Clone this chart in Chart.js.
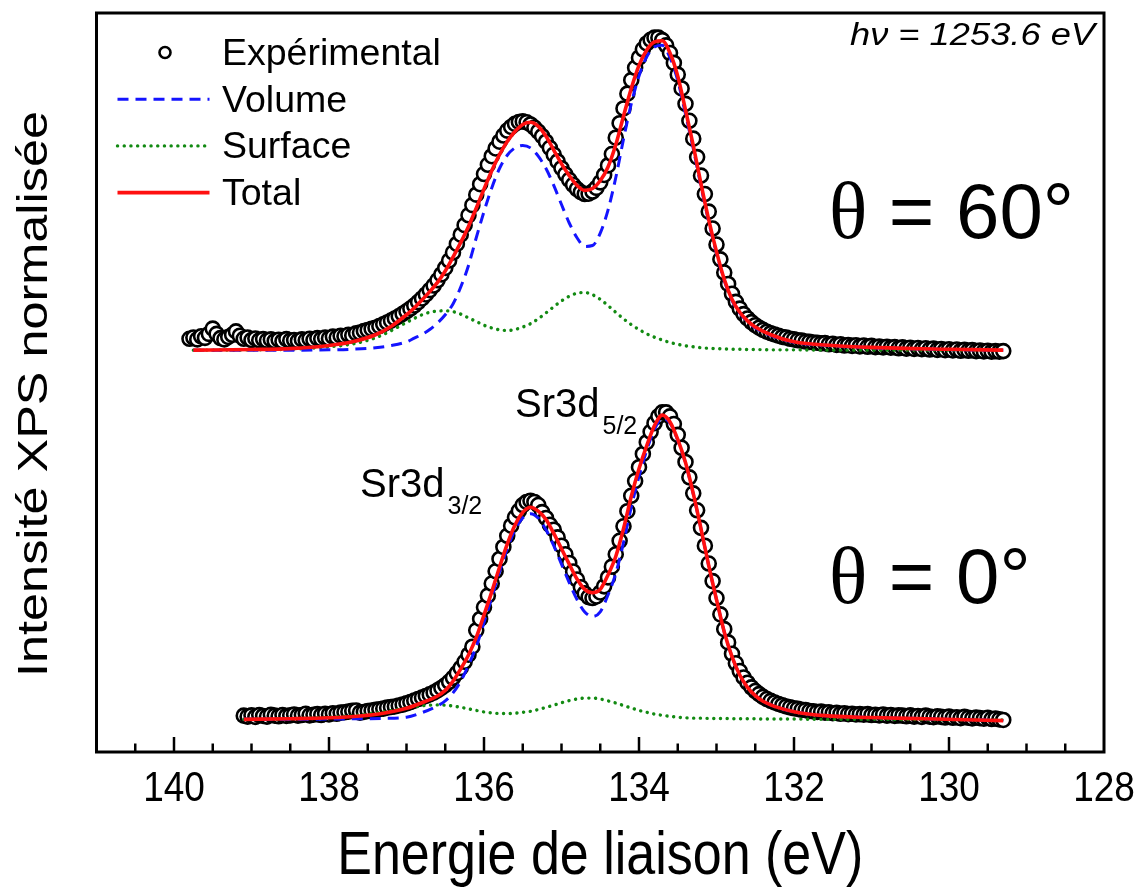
<!DOCTYPE html>
<html>
<head>
<meta charset="utf-8">
<script src="https://cdn.jsdelivr.net/npm/chart.js@4.4.1/dist/chart.umd.min.js"></script>
<style>
  html, body { margin: 0; padding: 0; background: #fff; }
  canvas { display: block; }
</style>
</head>
<body>
<canvas id="chart" width="1146" height="893"></canvas>
<script>
// --- axe des énergies ---
const majorTicks = [140, 138, 136, 134, 132, 130, 128];
const minorStep = 0.5;
const expStep = 0.05;

// --- points expérimentaux, theta = 0° (de 139.10 à 129.30 eV) ---
const lowerExpStart = 139.10;
const lowerExp = [
  0.008, 0.005, 0.009, 0.004, 0.010, 0.007, 0.005, 0.011, 0.008, 0.006,
  0.010, 0.007, 0.009, 0.012, 0.008, 0.010, 0.014, 0.009, 0.011, 0.013,
  0.010, 0.014, 0.012, 0.016, 0.014, 0.018, 0.019, 0.021, 0.024, 0.025,
  0.018, 0.020, 0.023, 0.025, 0.027, 0.029, 0.031, 0.034, 0.036, 0.038,
  0.041, 0.044, 0.048, 0.052, 0.057, 0.062, 0.067, 0.072, 0.077, 0.083,
  0.090, 0.098, 0.107, 0.118, 0.131, 0.146, 0.163, 0.183, 0.206, 0.232,
  0.285, 0.322, 0.360, 0.398, 0.437, 0.477, 0.517, 0.556, 0.592, 0.625,
  0.652, 0.673, 0.692, 0.702, 0.706, 0.702, 0.692, 0.669, 0.650, 0.628,
  0.612, 0.587, 0.560, 0.532, 0.504, 0.476, 0.450, 0.425, 0.405, 0.393,
  0.390, 0.395, 0.408, 0.428, 0.457, 0.492, 0.532, 0.576, 0.623, 0.672,
  0.722, 0.770, 0.815, 0.858, 0.896, 0.930, 0.958, 0.980, 0.993, 0.993,
  0.980, 0.955, 0.920, 0.878, 0.832, 0.782, 0.730, 0.675, 0.618, 0.560,
  0.502, 0.445, 0.390, 0.337, 0.289, 0.246, 0.209, 0.178, 0.153, 0.132,
  0.115, 0.100, 0.088, 0.078, 0.069, 0.062, 0.056, 0.051, 0.046, 0.042,
  0.038, 0.035, 0.032, 0.030, 0.027, 0.026, 0.023, 0.022, 0.020, 0.021,
  0.018, 0.019, 0.016, 0.017, 0.014, 0.016, 0.013, 0.014, 0.012, 0.013,
  0.011, 0.013, 0.010, 0.011, 0.009, 0.012, 0.008, 0.010, 0.007, 0.009,
  0.008, 0.006, 0.009, 0.005, 0.007, 0.004, 0.008, 0.005, 0.003, 0.006,
  0.004, 0.002, 0.005, 0.001, 0.003, 0.000, 0.004, 0.001, -0.001, 0.002,
  0.000, -0.002, 0.001, -0.003, -0.001, -0.004, -0.006
];

// --- points expérimentaux, theta = 60° (de 139.80 à 129.30 eV) ---
const upperExpStart = 139.80;
const upperExp = [
  1.232, 1.236, 1.230, 1.240, 1.235, 1.248, 1.265, 1.248, 1.234, 1.230,
  1.238, 1.245, 1.256, 1.242, 1.232, 1.236, 1.228, 1.233, 1.227, 1.231,
  1.226, 1.230, 1.225, 1.229, 1.224, 1.231, 1.226, 1.228, 1.225, 1.230,
  1.227, 1.232, 1.228, 1.234, 1.231, 1.236, 1.233, 1.239, 1.236, 1.242,
  1.240, 1.245, 1.243, 1.250, 1.252, 1.257, 1.260, 1.264, 1.268, 1.273,
  1.279, 1.285, 1.291, 1.298, 1.305, 1.313, 1.321, 1.330, 1.340, 1.351,
  1.363, 1.376, 1.390, 1.405, 1.422, 1.441, 1.462, 1.486, 1.512, 1.540,
  1.570, 1.601, 1.633, 1.666, 1.700, 1.734, 1.767, 1.797, 1.825, 1.850,
  1.872, 1.892, 1.908, 1.920, 1.930, 1.936, 1.938, 1.935, 1.928, 1.918,
  1.905, 1.890, 1.872, 1.852, 1.830, 1.808, 1.786, 1.766, 1.748, 1.732,
  1.718, 1.708, 1.702, 1.703, 1.710, 1.722, 1.740, 1.764, 1.795, 1.832,
  1.885, 1.932, 1.980, 2.028, 2.072, 2.112, 2.145, 2.172, 2.191, 2.203,
  2.210, 2.210, 2.202, 2.185, 2.160, 2.128, 2.090, 2.045, 1.995, 1.940,
  1.882, 1.822, 1.762, 1.702, 1.645, 1.590, 1.538, 1.490, 1.447, 1.410,
  1.378, 1.352, 1.330, 1.312, 1.298, 1.286, 1.276, 1.268, 1.261, 1.255,
  1.250, 1.246, 1.242, 1.238, 1.236, 1.232, 1.230, 1.227, 1.226, 1.223,
  1.222, 1.220, 1.219, 1.217, 1.218, 1.214, 1.216, 1.212, 1.214, 1.210,
  1.212, 1.209, 1.211, 1.207, 1.210, 1.206, 1.209, 1.205, 1.207, 1.204,
  1.206, 1.203, 1.205, 1.201, 1.204, 1.200, 1.203, 1.199, 1.202, 1.198,
  1.201, 1.197, 1.200, 1.196, 1.199, 1.195, 1.198, 1.194, 1.197, 1.193,
  1.196, 1.193, 1.195, 1.192, 1.194, 1.191, 1.193, 1.190, 1.192, 1.190,
  1.192
];

// --- ajustements, theta = 0° ---
const lowerFitE = [
  139.1, 138.5, 138.0, 137.6, 137.3, 137.0, 136.8, 136.6,
  136.5, 136.4, 136.3, 136.2, 136.1, 136.0, 135.9, 135.8, 135.7, 135.6,
  135.5, 135.4, 135.3, 135.2, 135.1, 135.0, 134.9, 134.8, 134.7, 134.6,
  134.5, 134.4, 134.3, 134.2, 134.1, 134.0, 133.9, 133.8, 133.7, 133.6,
  133.5, 133.4, 133.3, 133.2, 133.1, 133.0, 132.9, 132.8, 132.7, 132.6,
  132.5, 132.4, 132.2, 132.0, 131.6, 131.0, 130.3, 129.3
];
const lowerTotal = [
  -0.004, -0.002, 0.001, 0.007, 0.016, 0.032, 0.050, 0.072,
  0.090, 0.120, 0.160, 0.205, 0.262, 0.335, 0.410, 0.490, 0.565, 0.627,
  0.668, 0.685, 0.672, 0.645, 0.600, 0.550, 0.500, 0.452, 0.418, 0.407,
  0.418, 0.465, 0.525, 0.615, 0.720, 0.810, 0.885, 0.950, 0.984, 0.962,
  0.905, 0.830, 0.730, 0.615, 0.495, 0.385, 0.280, 0.200, 0.140, 0.100,
  0.073, 0.055, 0.034, 0.021, 0.008, 0.002, -0.002, -0.008
];
const lowerVolume = [
  -0.004, -0.004, -0.003, -0.002, -0.001, 0.003, 0.018, 0.040,
  0.056, 0.082, 0.120, 0.172, 0.232, 0.310, 0.392, 0.475, 0.550, 0.612,
  0.650, 0.664, 0.650, 0.612, 0.560, 0.500, 0.440, 0.385, 0.345, 0.330,
  0.345, 0.400, 0.470, 0.570, 0.685, 0.785, 0.870, 0.938, 0.975, 0.958,
  0.902, 0.828, 0.728, 0.614, 0.494, 0.385, 0.280, 0.200, 0.140, 0.100,
  0.073, 0.055, 0.034, 0.021, 0.008, 0.002, -0.002, -0.008
];
const lowerSurface = [
  -0.004, -0.002, 0.003, 0.010, 0.020, 0.033, 0.040, 0.043,
  0.042, 0.039, 0.035, 0.030, 0.025, 0.020, 0.017, 0.015, 0.015, 0.016,
  0.019, 0.022, 0.028, 0.035, 0.042, 0.050, 0.057, 0.062, 0.065, 0.065,
  0.062, 0.056, 0.049, 0.041, 0.033, 0.025, 0.019, 0.013, 0.009, 0.006,
  0.003, 0.001, 0.000, 0.000, -0.001, -0.001, -0.001, -0.002, -0.002, -0.002,
  -0.002, -0.003, -0.003, -0.003, -0.004, -0.004, -0.005, -0.006
];

// --- ajustements, theta = 60° ---
const upperFitE = [
  139.75, 139.0, 138.5, 138.0, 137.7, 137.4, 137.2, 137.0, 136.9,
  136.8, 136.7, 136.6, 136.5, 136.4, 136.3, 136.2, 136.1, 136.0, 135.9,
  135.8, 135.7, 135.6, 135.5, 135.4, 135.3, 135.2, 135.1, 135.0, 134.9,
  134.8, 134.7, 134.6, 134.5, 134.4, 134.3, 134.2, 134.1, 134.0, 133.9,
  133.8, 133.7, 133.6, 133.5, 133.4, 133.3, 133.2, 133.1, 133.0, 132.9,
  132.8, 132.7, 132.6, 132.5, 132.3, 132.0, 131.5, 131.0, 130.0, 129.3
];
const upperTotal = [
  1.195, 1.197, 1.200, 1.210, 1.222, 1.245, 1.272, 1.310, 1.332,
  1.358, 1.385, 1.415, 1.452, 1.497, 1.545, 1.597, 1.656, 1.718, 1.778,
  1.830, 1.873, 1.905, 1.928, 1.935, 1.922, 1.890, 1.845, 1.800, 1.762,
  1.730, 1.714, 1.720, 1.745, 1.790, 1.862, 1.955, 2.045, 2.120, 2.170,
  2.196, 2.200, 2.160, 2.085, 1.975, 1.860, 1.735, 1.618, 1.515, 1.425,
  1.360, 1.318, 1.290, 1.270, 1.245, 1.222, 1.210, 1.204, 1.198, 1.195
];
const upperVolume = [
  1.195, 1.195, 1.195, 1.196, 1.198, 1.203, 1.210, 1.222, 1.234,
  1.246, 1.262, 1.283, 1.310, 1.345, 1.400, 1.470, 1.560, 1.645, 1.722,
  1.785, 1.828, 1.852, 1.860, 1.852, 1.825, 1.785, 1.730, 1.668, 1.608,
  1.560, 1.532, 1.535, 1.575, 1.650, 1.755, 1.880, 1.995, 2.085, 2.148,
  2.180, 2.185, 2.145, 2.070, 1.962, 1.850, 1.727, 1.612, 1.510, 1.421,
  1.357, 1.315, 1.288, 1.268, 1.243, 1.221, 1.209, 1.203, 1.197, 1.195
];
const upperSurface = [
  1.195, 1.196, 1.198, 1.206, 1.215, 1.235, 1.258, 1.285, 1.298,
  1.310, 1.318, 1.322, 1.323, 1.320, 1.312, 1.300, 1.288, 1.276, 1.267,
  1.261, 1.259, 1.262, 1.270, 1.281, 1.297, 1.316, 1.336, 1.355, 1.370,
  1.380, 1.382, 1.375, 1.360, 1.340, 1.318, 1.297, 1.278, 1.262, 1.248,
  1.237, 1.228, 1.220, 1.214, 1.209, 1.206, 1.203, 1.201, 1.200, 1.199,
  1.198, 1.198, 1.197, 1.197, 1.196, 1.196, 1.195, 1.195, 1.195, 1.195
];

const SANS = '"Liberation Sans", Arial, sans-serif';
const SERIF = '"Liberation Serif", "Times New Roman", serif';

const expPoints = (start, vals) => vals.map((y, i) => ({ x: +(start - i * expStep).toFixed(2), y }));
const fitPoints = (es, vals) => es.map((x, i) => ({ x, y: vals[i] }));

const styleExp = {
  showLine: false, pointRadius: 7, pointBorderWidth: 2.6,
  pointBorderColor: '#000', pointBackgroundColor: '#fff', order: 10
};
const styleVolume = {
  showLine: true, pointRadius: 0, borderColor: '#1414ff', borderWidth: 3,
  borderDash: [11, 7], cubicInterpolationMode: 'monotone', order: 2
};
const styleSurface = {
  showLine: true, pointRadius: 0, borderColor: '#128a12', borderWidth: 3.4,
  borderDash: [0.1, 6.6], borderCapStyle: 'round', cubicInterpolationMode: 'monotone', order: 3
};
const styleTotal = {
  showLine: true, pointRadius: 0, borderColor: '#ff1010', borderWidth: 3.6,
  cubicInterpolationMode: 'monotone', order: 1
};

const datasets = [
  { label: 'Expérimental', data: expPoints(upperExpStart, upperExp), ...styleExp },
  { label: 'Expérimental', data: expPoints(lowerExpStart, lowerExp), ...styleExp },
  { label: 'Volume', data: fitPoints(upperFitE, upperVolume), ...styleVolume },
  { label: 'Volume', data: fitPoints(lowerFitE, lowerVolume), ...styleVolume },
  { label: 'Surface', data: fitPoints(upperFitE, upperSurface), ...styleSurface },
  { label: 'Surface', data: fitPoints(lowerFitE, lowerSurface), ...styleSurface },
  { label: 'Total', data: fitPoints(upperFitE, upperTotal), ...styleTotal },
  { label: 'Total', data: fitPoints(lowerFitE, lowerTotal), ...styleTotal }
];

// texte étiré (sx, sy) autour de son point d'ancrage
const drawStretched = (ctx, text, x, y, font, sx, sy, rot = 0) => {
  ctx.save();
  ctx.translate(x, y);
  ctx.rotate(rot);
  ctx.scale(sx, sy);
  ctx.font = font;
  ctx.fillText(text, 0, 0);
  ctx.restore();
};

// cadre, graduations vers l'intérieur, étiquettes et titres des axes
const cadre = {
  id: 'cadre',
  afterDatasetsDraw(chart) {
    const { ctx, chartArea: a, scales: { x } } = chart;
    ctx.save();
    ctx.strokeStyle = '#000';
    ctx.lineWidth = 2.5;
    for (let v = x.min + minorStep; v < x.max; v += minorStep) {
      const px = x.getPixelForValue(v);
      const len = majorTicks.includes(v) ? 15 : 8.5;
      ctx.beginPath();
      ctx.moveTo(px, a.bottom);
      ctx.lineTo(px, a.bottom - len);
      ctx.stroke();
    }
    ctx.lineWidth = 3;
    ctx.strokeRect(a.left, a.top, a.right - a.left, a.bottom - a.top);

    ctx.fillStyle = '#000';
    ctx.textAlign = 'center';
    ctx.textBaseline = 'alphabetic';
    majorTicks.forEach(v => {
      drawStretched(ctx, String(v), x.getPixelForValue(v), a.bottom + 49, '37px ' + SANS, 1, 1.15);
    });
    drawStretched(ctx, 'Energie de liaison (eV)', (a.left + a.right) / 2, a.bottom + 122, '52px ' + SANS, 1, 1.17);
    drawStretched(ctx, 'Intensité XPS normalisée', 47, 394, '42px ' + SANS, 1.2, 1, -Math.PI / 2);
    ctx.restore();
  }
};

// légende dessinée à la main (symboles tirés des datasets)
const legende = {
  id: 'legende',
  afterDraw(chart) {
    const { ctx, chartArea: a } = chart;
    const seen = [];
    chart.data.datasets.forEach(d => { if (!seen.find(s => s.label === d.label)) seen.push(d); });
    ctx.save();
    ctx.font = '37.5px ' + SANS;
    ctx.fillStyle = '#000';
    ctx.textBaseline = 'alphabetic';
    seen.forEach((d, i) => {
      const base = a.top + 52 + i * 46.7;
      const cy = base - 12.5;
      const x0 = a.left + 21, x1 = a.left + 113;
      if (d.showLine) {
        ctx.strokeStyle = d.borderColor;
        ctx.lineWidth = d.borderWidth;
        ctx.setLineDash(d.borderDash || []);
        ctx.lineCap = d.borderCapStyle || 'butt';
        ctx.beginPath();
        ctx.moveTo(x0, cy);
        ctx.lineTo(x1, cy);
        ctx.stroke();
        ctx.setLineDash([]);
        ctx.lineCap = 'butt';
      } else {
        ctx.beginPath();
        ctx.arc(a.left + 68.5, cy, 5.5, 0, Math.PI * 2);
        ctx.fillStyle = d.pointBackgroundColor;
        ctx.fill();
        ctx.lineWidth = d.pointBorderWidth;
        ctx.strokeStyle = d.pointBorderColor;
        ctx.stroke();
        ctx.fillStyle = '#000';
      }
      ctx.fillText(d.label, a.left + 125.5, base);
    });
    ctx.restore();
  }
};

// annotations (positions en unités des axes)
const textes = {
  id: 'textes',
  afterDraw(chart) {
    const { ctx, chartArea: a, scales: { x, y } } = chart;
    ctx.save();
    ctx.fillStyle = '#000';
    ctx.textBaseline = 'alphabetic';

    const sr = (e, v, sub) => {
      const px = x.getPixelForValue(e), py = y.getPixelForValue(v);
      ctx.font = '40px ' + SANS;
      ctx.fillText('Sr3d', px, py);
      const w = ctx.measureText('Sr3d').width;
      ctx.font = '25px ' + SANS;
      ctx.fillText(sub, px + w + 3, py + 17);
    };
    sr(137.6, 0.718, '3/2');
    sr(135.6, 0.977, '5/2');

    const theta = (e, v, rest) => {
      const px = x.getPixelForValue(e), py = y.getPixelForValue(v);
      ctx.font = '80px ' + SERIF;
      ctx.fillText('\u03b8', px, py);
      const w = ctx.measureText('\u03b8').width;
      ctx.font = '78px ' + SANS;
      ctx.fillText(rest, px + w, py);
    };
    theta(131.55, 1.56, ' = 60\u00b0');
    theta(131.55, 0.375, ' = 0\u00b0');

    // h nu, un peu élargi comme sur la figure
    ctx.textAlign = 'right';
    drawStretched(ctx, 'h\u03bd = 1253.6 eV', a.right - 9, a.top + 32, 'italic 31px ' + SANS, 1.17, 1);
    ctx.restore();
  }
};

new Chart(document.getElementById('chart'), {
  type: 'scatter',
  data: { datasets },
  options: {
    responsive: false,
    animation: false,
    devicePixelRatio: 1,
    layout: { padding: { top: 13, right: 42, bottom: 0, left: 0 } },
    plugins: { legend: { display: false }, tooltip: { enabled: false } },
    scales: {
      x: {
        type: 'linear', min: 128, max: 141, reverse: true,
        grid: { display: false, drawTicks: false },
        border: { display: false },
        afterBuildTicks: s => { s.ticks = majorTicks.map(v => ({ value: v })); },
        afterFit: s => { s.height = 141; },
        ticks: { display: false },
        title: { display: false }
      },
      y: {
        min: -0.11, max: 2.29,
        grid: { display: false, drawTicks: false },
        border: { display: false },
        ticks: { display: false },
        afterFit: s => { s.width = 96.5; },
        title: { display: false }
      }
    }
  },
  plugins: [cadre, legende, textes]
});
</script>
</body>
</html>
